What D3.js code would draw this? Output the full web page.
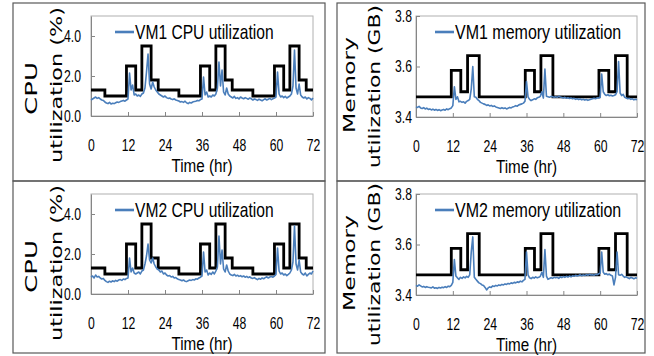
<!DOCTYPE html>
<html>
<head>
<meta charset="utf-8">
<script src="https://cdn.jsdelivr.net/npm/d3@7/dist/d3.min.js"></script>
<style>
  body { margin: 0; background: #fff; }
</style>
</head>
<body>
<script>
// sample times (hr), one reading every half hour
const hours = d3.range(0, 72.001, 0.5);
const xTicks = [0, 12, 24, 36, 48, 60, 72];
const cpuTicks = [0, 2, 4];
const memTicks = [3.4, 3.6, 3.8];

// allocated resources (step lines): change times and level after each change
const cpuStepTimes = [0, 4.5, 11.5, 14.5, 16.5, 19.5, 21.8, 28.5, 35.5, 38.5, 40.5, 43.5, 45.8, 52.5, 59.5, 62.5, 64.5, 67.5, 69.8, 72];
const cpuStepLevels = [1.3, 1.0, 2.5, 1.3, 3.5, 1.8, 1.3, 1.0, 2.5, 1.3, 3.5, 1.8, 1.3, 1.0, 2.5, 1.3, 3.5, 1.8, 1.3, 1.3];
const memStepTimes = [0, 11.5, 14.6, 16.8, 20.6, 35.6, 38.6, 40.7, 44.6, 59.6, 62.8, 65, 68.8, 72];
const memStepLevels = [3.48, 3.585, 3.50, 3.643, 3.48, 3.585, 3.50, 3.643, 3.48, 3.585, 3.50, 3.643, 3.48, 3.48];

// measured utilization
const vm1Cpu = [0.80,0.85,0.90,0.95,0.88,0.92,0.85,0.80,0.78,
  0.70,0.65,0.62,0.68,0.60,0.64,0.62,0.66,0.70,0.68,0.72,0.75,0.78,0.74,0.80,
  0.85,2.15,1.30,1.55,1.05,1.10,
  1.00,1.05,0.98,1.10,1.15,
  1.40,2.20,3.10,1.60,
  1.35,1.70,1.45,1.30,1.20,
  1.10,1.05,1.00,0.95,1.00,0.92,0.88,0.90,0.85,0.82,0.86,0.80,0.78,
  0.75,0.70,0.72,0.68,0.74,0.66,0.62,0.68,0.65,0.70,0.72,0.74,0.78,0.76,0.82,
  0.85,1.95,1.05,1.20,0.95,1.00,0.95,1.05,1.00,1.10,1.40,2.70,1.50,2.30,1.20,1.05,1.40,1.10,1.00,
  0.95,0.90,0.98,0.88,0.92,0.85,0.95,0.90,0.86,0.92,0.88,0.84,0.90,0.86,0.80,0.85,0.82,0.78,0.84,0.80,0.76,0.82,0.86,0.80,0.84,0.88,0.82,0.86,0.90,
  0.95,2.20,1.10,0.95,1.00,0.92,0.98,0.90,0.95,1.00,1.10,1.50,3.30,1.40,1.10,1.60,1.05,0.95,0.90,0.95,0.85,0.92,0.88,0.80,0.90];
const vm2Cpu = [0.85,0.90,0.80,0.95,0.85,0.88,0.80,0.75,0.78,
  0.68,0.62,0.58,0.64,0.60,0.66,0.62,0.68,0.64,0.70,0.72,0.68,0.75,0.72,0.78,
  0.80,1.80,1.10,1.30,1.05,1.00,
  1.05,1.10,1.00,1.15,1.20,
  1.50,1.90,2.50,1.70,
  1.55,1.80,1.50,1.35,1.25,
  1.20,1.10,1.15,1.00,1.05,0.95,0.90,0.92,0.85,0.88,0.80,0.82,0.76,
  0.72,0.70,0.66,0.70,0.64,0.62,0.66,0.70,0.68,0.72,0.70,0.76,0.74,0.80,0.84,
  0.90,2.10,1.10,1.20,0.95,1.05,0.98,1.10,1.00,1.15,1.35,2.90,1.50,2.20,1.25,1.10,1.45,1.15,1.00,
  0.95,0.92,0.98,0.90,0.94,0.88,0.92,0.86,0.90,0.84,0.88,0.82,0.86,0.80,0.78,0.82,0.76,0.72,0.78,0.74,0.80,0.76,0.82,0.86,0.80,0.85,0.88,0.84,0.90,
  0.98,2.30,1.15,1.00,1.05,0.95,1.00,0.92,0.98,1.05,1.20,1.60,3.40,1.50,1.20,1.70,1.10,1.00,0.95,1.05,0.90,0.98,1.05,1.00,1.15];
const vm1Mem = [3.440,3.438,3.442,3.436,3.434,3.437,3.432,3.435,3.430,
  3.432,3.428,3.431,3.427,3.430,3.426,3.429,3.425,3.428,3.430,3.427,3.432,3.429,3.433,3.436,
  3.445,3.520,3.470,3.480,3.460,3.462,
  3.458,3.460,3.455,3.462,3.465,
  3.470,3.510,3.600,3.480,
  3.478,3.470,3.465,3.458,3.455,
  3.452,3.450,3.446,3.448,3.444,3.446,3.442,3.444,3.440,3.438,3.436,3.434,3.437,
  3.434,3.436,3.432,3.435,3.438,3.436,3.440,3.442,3.445,3.443,3.448,3.450,3.452,3.455,3.462,
  3.540,3.480,3.470,3.465,3.468,3.472,3.470,3.476,3.478,3.482,3.500,3.475,3.590,3.482,3.480,3.478,3.482,3.480,3.478,
  3.480,3.478,3.482,3.479,3.477,3.475,3.478,3.474,3.476,3.473,3.475,3.472,3.474,3.470,3.472,3.469,3.471,3.468,3.470,3.467,3.469,3.466,3.468,3.470,3.472,3.474,3.472,3.476,3.475,
  3.478,3.570,3.500,3.490,3.485,3.488,3.484,3.486,3.483,3.485,3.488,3.500,3.620,3.495,3.485,3.490,3.478,3.475,3.472,3.474,3.470,3.472,3.468,3.470,3.468];
const vm2Mem = [3.438,3.435,3.440,3.436,3.432,3.434,3.430,3.433,3.431,
  3.430,3.428,3.432,3.427,3.429,3.426,3.430,3.428,3.431,3.429,3.433,3.430,3.435,3.433,3.438,
  3.450,3.540,3.475,3.468,3.462,3.470,
  3.466,3.472,3.468,3.474,3.470,
  3.480,3.570,3.630,3.470,
  3.462,3.455,3.448,3.445,3.440,
  3.438,3.430,3.420,3.428,3.432,3.430,3.436,3.434,3.438,3.436,3.440,3.438,3.442,
  3.440,3.444,3.442,3.446,3.444,3.448,3.446,3.450,3.448,3.452,3.450,3.455,3.452,3.458,3.462,
  3.570,3.480,3.468,3.465,3.470,3.467,3.472,3.468,3.470,3.474,3.490,3.470,3.580,3.475,3.462,3.465,3.468,3.466,3.470,
  3.468,3.470,3.466,3.472,3.469,3.473,3.470,3.474,3.471,3.475,3.472,3.476,3.474,3.478,3.475,3.477,3.480,3.476,3.479,3.477,3.481,3.478,3.482,3.479,3.480,3.478,3.482,3.480,3.484,
  3.486,3.570,3.490,3.482,3.485,3.480,3.483,3.478,3.475,3.440,3.470,3.570,3.480,3.478,3.482,3.475,3.470,3.472,3.468,3.465,3.470,3.467,3.464,3.468,3.466];

const blue = "#4a7ebb";
const sans = "'Liberation Sans', Arial, sans-serif";

let svg = d3.select("body").append("svg")
    .attr("width", 654)
    .attr("height", 356);

// squeeze text horizontally, the chart uses a narrow face
function squeeze(sel, k) {
    sel.each(function () {
        let w = this.getComputedTextLength();
        d3.select(this).attr("textLength", w * k).attr("lengthAdjust", "spacingAndGlyphs");
    });
}

// narrow text drawn through a horizontal scale
function narrowText(g, x, y, size, k, anchor, str) {
    return g.append("g")
        .attr("transform", "translate(" + x + "," + y + ") scale(" + k + ",1)")
        .append("text")
        .attr("text-anchor", anchor)
        .attr("font-family", sans).attr("font-size", size)
        .text(str);
}

function drawPanel(p) {
    let g = svg.append("g").attr("transform", "translate(0," + p.dy + ")");

    // outer frame
    g.append("rect")
        .attr("x", p.frame[0]).attr("y", p.frame[1])
        .attr("width", p.frame[2]).attr("height", p.frame[3])
        .attr("fill", "none").attr("stroke", "#595959").attr("stroke-width", 1.2);

    let x = d3.scaleLinear().domain([0, 72]).range([p.left, p.right]);
    let y = d3.scaleLinear().domain(p.yDomain).range([p.bottom, p.top]);

    g.append("rect")
        .attr("x", p.left).attr("y", p.top)
        .attr("width", p.right - p.left).attr("height", p.bottom - p.top)
        .attr("fill", "none").attr("stroke", "#b0b0b0");

    let yAxis = g.append("g")
        .attr("transform", "translate(" + p.left + ",0)")
        .call(d3.axisLeft(y).tickValues(p.yTicks).tickFormat(d3.format(".1f"))
            .tickSize(-4).tickSizeOuter(0).tickPadding(p.yPad));
    let xAxis = g.append("g")
        .attr("transform", "translate(0," + p.bottom + ")")
        .call(d3.axisBottom(x).tickValues(xTicks).tickSize(-4).tickSizeOuter(0).tickPadding(23));
    [yAxis, xAxis].forEach(function (a) {
        a.select(".domain").attr("stroke", "#868686");
        a.selectAll(".tick line").attr("stroke", "#868686");
        a.selectAll("text").attr("font-family", sans).attr("font-size", 16.5).attr("fill", "#000")
            .call(squeeze, 0.74);
    });

    // allocation step line
    let steps = p.stepTimes.map(function (t, i) { return [t, p.stepLevels[i]]; });
    g.append("path")
        .datum(steps)
        .attr("fill", "none").attr("stroke", "#000").attr("stroke-width", 2.8)
        .attr("d", d3.line().x(d => x(d[0])).y(d => y(d[1])).curve(d3.curveStepAfter));

    // measured utilization
    g.append("path")
        .datum(p.values)
        .attr("fill", "none").attr("stroke", blue).attr("stroke-width", 1.6)
        .attr("stroke-linejoin", "round")
        .attr("d", d3.line().x((d, i) => x(hours[i])).y(d => y(d)));

    // legend
    g.append("line")
        .attr("x1", p.legendX).attr("x2", p.legendX + 19)
        .attr("y1", 32).attr("y2", 32)
        .attr("stroke", blue).attr("stroke-width", 2.6);
    narrowText(g, p.legendX + 20, 39, 20, p.legendK, "start", p.legend);

    // x title
    narrowText(g, (p.left + p.right) / 2, p.bottom + 56, 17.5, 0.87, "middle", "Time (hr)");

    // y title, two rotated lines
    p.yTitle.forEach(function (t) {
        g.append("text")
            .attr("transform", "translate(" + t.x + "," + t.cy + ") rotate(-90)")
            .attr("text-anchor", "middle")
            .attr("font-family", "'DejaVu Sans', sans-serif").attr("font-size", 16)
            .attr("textLength", t.len).attr("lengthAdjust", "spacingAndGlyphs")
            .text(t.text);
    });
}

let cpuTitle = [{text: "CPU", x: 36.5, cy: 88.5, len: 53}, {text: "utilization (%)", x: 61.5, cy: 85, len: 156}];
let memTitle = [{text: "Memory", x: 354.5, cy: 85, len: 96}, {text: "utilization (GB)", x: 379.5, cy: 86.5, len: 163}];

[
    {dy: 0, frame: [13, 3, 312, 178], left: 91, right: 313, top: 16, bottom: 116, yDomain: [0, 5], yTicks: cpuTicks, yPad: 10,
        stepTimes: cpuStepTimes, stepLevels: cpuStepLevels, values: vm1Cpu, legend: "VM1 CPU utilization", legendX: 115, legendK: 0.78, yTitle: cpuTitle},
    {dy: 0, frame: [337, 3, 308, 178], left: 416, right: 637, top: 16, bottom: 117, yDomain: [3.4, 3.8], yTicks: memTicks, yPad: 4,
        stepTimes: memStepTimes, stepLevels: memStepLevels, values: vm1Mem, legend: "VM1 memory utilization", legendX: 435, legendK: 0.8, yTitle: memTitle},
    {dy: 178, frame: [13, 3, 312, 172], left: 91, right: 313, top: 16, bottom: 116, yDomain: [0, 5], yTicks: cpuTicks, yPad: 10,
        stepTimes: cpuStepTimes, stepLevels: cpuStepLevels, values: vm2Cpu, legend: "VM2 CPU utilization", legendX: 115, legendK: 0.78, yTitle: cpuTitle},
    {dy: 178, frame: [337, 3, 308, 172], left: 416, right: 637, top: 16, bottom: 117, yDomain: [3.4, 3.8], yTicks: memTicks, yPad: 4,
        stepTimes: memStepTimes, stepLevels: memStepLevels, values: vm2Mem, legend: "VM2 memory utilization", legendX: 435, legendK: 0.8, yTitle: memTitle}
].forEach(drawPanel);
</script>
</body>
</html>
